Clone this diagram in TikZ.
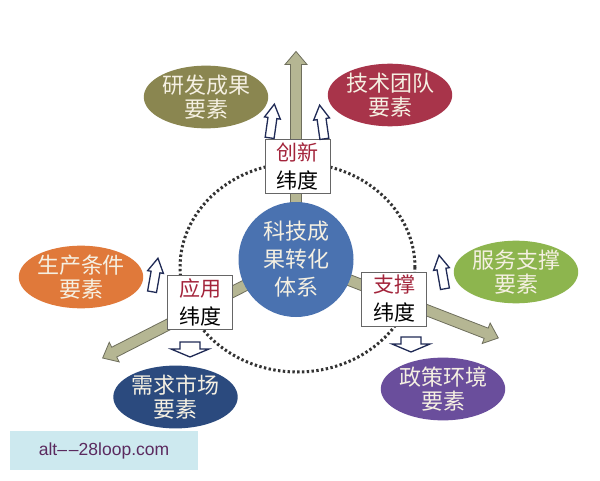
\documentclass[tikz,border=0pt]{standalone}
\usepackage{fontspec}
\setmainfont{Liberation Sans}
\newfontfamily\cjk{Noto Sans CJK SC}
\usetikzlibrary{shapes.geometric,calc}
\definecolor{cblue}{HTML}{4A72B0}
\definecolor{colive}{HTML}{8A8650}
\definecolor{ccrimson}{HTML}{A8344A}
\definecolor{corange}{HTML}{E0793A}
\definecolor{cgreen}{HTML}{8DB54E}
\definecolor{cnavy}{HTML}{2B4A7E}
\definecolor{cpurple}{HTML}{6A4E9C}
\definecolor{ctext}{HTML}{F5F0E2}
\definecolor{cred}{HTML}{A3243B}
\definecolor{arrfill}{HTML}{B5B693}
\definecolor{arrline}{HTML}{6E6E5C}
\definecolor{holline}{HTML}{1F2A55}
\definecolor{wmbg}{HTML}{CDE9EF}
\definecolor{wmtext}{HTML}{5B2A5F}
\tikzset{
  elem/.style={ellipse, fill=#1, draw=none, minimum width=120pt, minimum height=60pt,
    inner sep=0pt, align=center, text=ctext, font=\cjk\fontsize{22}{24}\selectfont},
  dimbox/.style={rectangle, fill=white, draw=black!60, line width=0.9pt,
    minimum width=65pt, minimum height=54pt, inner sep=0pt, align=center,
    font=\cjk\fontsize{21}{28}\selectfont},
  bigarr/.style={fill=arrfill, draw=arrline, line width=0.8pt, line join=miter},
  hol/.style={fill=white, draw=holline, line width=1.3pt, line join=miter},
}
\newcommand{\bigarrow}[3]{%
  \begin{scope}[shift={(#1)},rotate=#2]
    \draw[bigarr] (0,-5.5) -- (#3-13,-5.5) -- (#3-13,-11) -- (#3,0) -- (#3-13,11) -- (#3-13,5.5) -- (0,5.5) -- cycle;
  \end{scope}}
\newcommand{\hollowarr}[7]{%
  \begin{scope}[shift={(#1,#2)},rotate=#3]
    \draw[hol] (-#4/2,-#6/2) -- (#4/2-#7,-#6/2) -- (#4/2-#7,-#5/2) -- (#4/2,0) -- (#4/2-#7,#5/2) -- (#4/2-#7,#6/2) -- (-#4/2,#6/2) -- cycle;
  \end{scope}}
\begin{document}
\begin{tikzpicture}[x=1pt,y=1pt]
\useasboundingbox (0,0) rectangle (600,480);
\fill[white] (0,0) rectangle (600,480);
% big arrows from the centre
\coordinate (ctr) at (296,220.5);
\bigarrow{ctr}{90}{208}
\bigarrow{ctr}{207}{217}
\bigarrow{ctr}{-21.2}{217}
% dotted ellipse
\draw[line width=3pt, dash pattern=on 2.4pt off 2.4pt, black!80] (297.5,212.5) ellipse [x radius=117.5, y radius=104.5];
% centre circle
\node[circle, fill=cblue, minimum size=115pt, inner sep=0pt, align=center, text=ctext,
  font=\cjk\fontsize{22}{28}\selectfont] (core) at (ctr) {科技成\\果转化\\体系};
% dimension boxes
\node[dimbox] (innov) at (297.5,313.5) {\textcolor{cred}{创新}\\纬度};
\node[dimbox] (apply) at (200,178) {\textcolor{cred}{应用}\\纬度};
\node[dimbox] (supp) at (394,181) {\textcolor{cred}{支撑}\\纬度};
% element ellipses
\node[elem=colive] (rd) at (206,383) {研发成果\\要素};
\node[elem=ccrimson, minimum width=124pt] (team) at (390,385) {技术团队\\要素};
\node[elem=corange, minimum width=118pt] (prod) at (81,203) {生产条件\\要素};
\node[elem=cgreen, minimum width=122pt] (serv) at (516,208) {服务支撑\\要素};
\node[elem=cnavy] (mkt) at (175.5,83) {需求市场\\要素};
\node[elem=cpurple, minimum width=122pt] (pol) at (443,91) {政策环境\\要素};
% hollow arrows
\hollowarr{272}{359}{82}{34}{16}{9}{14}
\hollowarr{322}{358}{98}{34}{16}{9}{14}
\hollowarr{155}{205}{80}{34}{16}{9}{14}
\hollowarr{442}{208}{100}{34}{16}{9}{14}
\hollowarr{190}{130.5}{-90}{15}{38}{20}{8}
\hollowarr{411}{135.5}{-90}{15}{38}{20}{8}
% watermark
\node[rectangle, fill=wmbg, minimum width=188pt, minimum height=39pt, inner sep=0pt,
  text=wmtext, font=\fontsize{17.5}{20}\selectfont] (wm) at (104,29.5) {alt\textendash\kern2pt\textendash28loop.com};
\end{tikzpicture}
\end{document}
